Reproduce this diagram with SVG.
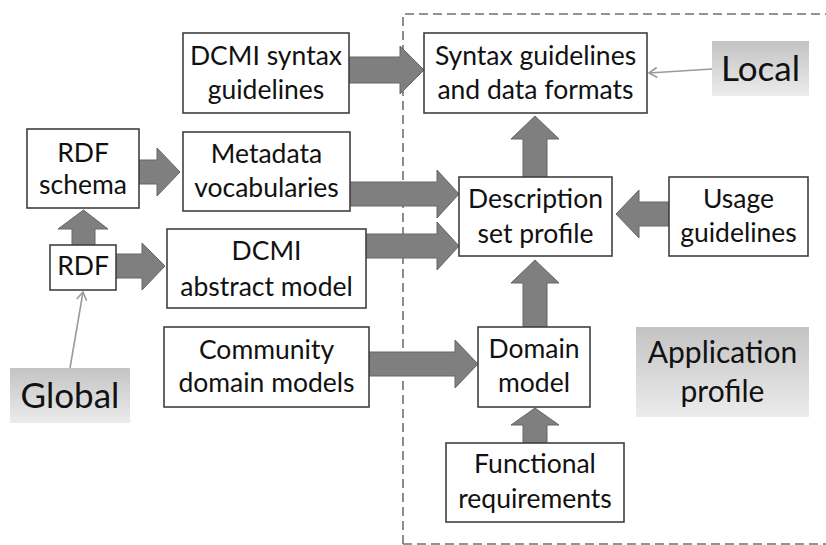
<svg xmlns="http://www.w3.org/2000/svg" width="826" height="545" viewBox="0 0 826 545">
<style>
.box{fill:#fff;stroke:#404040;stroke-width:1.6}
.t{font-family:Lato,"Open Sans","Liberation Sans",sans-serif;font-size:26.5px;fill:#111;text-anchor:middle}
.big{font-family:Lato,"Open Sans","Liberation Sans",sans-serif;fill:#111;text-anchor:middle}
.arr{fill:#7f7f7f;stroke:#666;stroke-width:1}
.thin{stroke:#9a9a9a;stroke-width:1.6;fill:none}
.lab{fill:url(#g)}
</style>
<defs>
<linearGradient id="g" x1="0" y1="0" x2="0" y2="1">
<stop offset="0" stop-color="#c3c3c3"/>
<stop offset="1" stop-color="#ececec"/>
</linearGradient>
<marker id="open" markerWidth="12" markerHeight="12" refX="10" refY="6" orient="auto" markerUnits="userSpaceOnUse">
<path d="M2,1 L10,6 L2,11" fill="none" stroke="#9a9a9a" stroke-width="1.6"/>
</marker>
</defs>
<g id="boundary">
<path d="M403,544 V14 H826 M403,544 H826" fill="none" stroke="#707070" stroke-width="1.6" stroke-dasharray="9,5"/>
</g>
<g id="connectors">
<polygon class="arr" points="349,57 400,57 400,46 424,70 400,94 400,83 349,83"/>
<polygon class="arr" points="139,160 157,160 157,148 180,172 157,196 157,184 139,184"/>
<polygon class="arr" points="350,182 437,182 437,170 459,194 437,218 437,206 350,206"/>
<polygon class="arr" points="366,234 437,234 437,222 459,246 437,270 437,258 366,258"/>
<polygon class="arr" points="116,254 142,254 142,243 165,266 142,290 142,278 116,278"/>
<polygon class="arr" points="72,245 72,229 58,229 83.5,210 108,229 95,229 95,245"/>
<polygon class="arr" points="369,352 455,352 455,340 478,364 455,388 455,376 369,376"/>
<polygon class="arr" points="669,202 639,202 639,190 616,214 639,238 639,226 669,226"/>
<polygon class="arr" points="523,177 523,139 511,139 535,116 559,139 547,139 547,177"/>
<polygon class="arr" points="523,327 523,283 511,283 535,260 559,283 547,283 547,327"/>
<polygon class="arr" points="523,443 523,425 511,425 535,408 559,425 547,425 547,443"/>
<line class="thin" x1="712" y1="69" x2="649" y2="73" marker-end="url(#open)"/>
<line class="thin" x1="70" y1="368" x2="83" y2="292" marker-end="url(#open)"/>
</g>
<g id="dcmi-syntax"><rect class="box" x="183" y="33" width="166" height="80"/><text class="t" x="266" y="65">DCMI syntax</text><text class="t" x="266" y="99">guidelines</text></g>
<g id="syntax-guidelines"><rect class="box" x="424" y="33" width="223" height="80"/><text class="t" x="535.5" y="65">Syntax guidelines</text><text class="t" x="535.5" y="99">and data formats</text></g>
<g id="local"><rect class="lab" x="712" y="41" width="97" height="55"/><text class="big" x="760.5" y="81" font-size="35">Local</text></g>
<g id="rdf-schema"><rect class="box" x="27" y="129" width="112" height="79"/><text class="t" x="83" y="162">RDF</text><text class="t" x="83" y="194">schema</text></g>
<g id="metadata-vocab"><rect class="box" x="183" y="132" width="167" height="79"/><text class="t" x="266.5" y="163">Metadata</text><text class="t" x="266.5" y="197">vocabularies</text></g>
<g id="dsp"><rect class="box" x="459" y="177" width="153" height="79"/><text class="t" x="535.5" y="208">Description</text><text class="t" x="535.5" y="243">set profile</text></g>
<g id="usage"><rect class="box" x="669" y="177" width="139" height="79"/><text class="t" x="738.5" y="208">Usage</text><text class="t" x="738.5" y="242">guidelines</text></g>
<g id="rdf"><rect class="box" x="50" y="245" width="66" height="45"/><text class="t" x="83" y="275">RDF</text></g>
<g id="dcmi-abstract"><rect class="box" x="167" y="229" width="199" height="79"/><text class="t" x="266.5" y="260">DCMI</text><text class="t" x="266.5" y="296">abstract model</text></g>
<g id="community"><rect class="box" x="164" y="327" width="205" height="80"/><text class="t" x="266.5" y="359">Community</text><text class="t" x="266.5" y="392">domain models</text></g>
<g id="domain-model"><rect class="box" x="478" y="327" width="112" height="80"/><text class="t" x="534" y="358">Domain</text><text class="t" x="534" y="392">model</text></g>
<g id="global"><rect class="lab" x="10" y="368" width="120" height="55"/><text class="big" x="70" y="408" font-size="35">Global</text></g>
<g id="app-profile"><rect class="lab" x="636" y="327" width="173" height="90"/><text class="big" x="722.5" y="363" font-size="30">Application</text><text class="big" x="722.5" y="402" font-size="30">profile</text></g>
<g id="functional"><rect class="box" x="446" y="443" width="178" height="79"/><text class="t" x="535" y="473">Functional</text><text class="t" x="535" y="508">requirements</text></g>
</svg>
